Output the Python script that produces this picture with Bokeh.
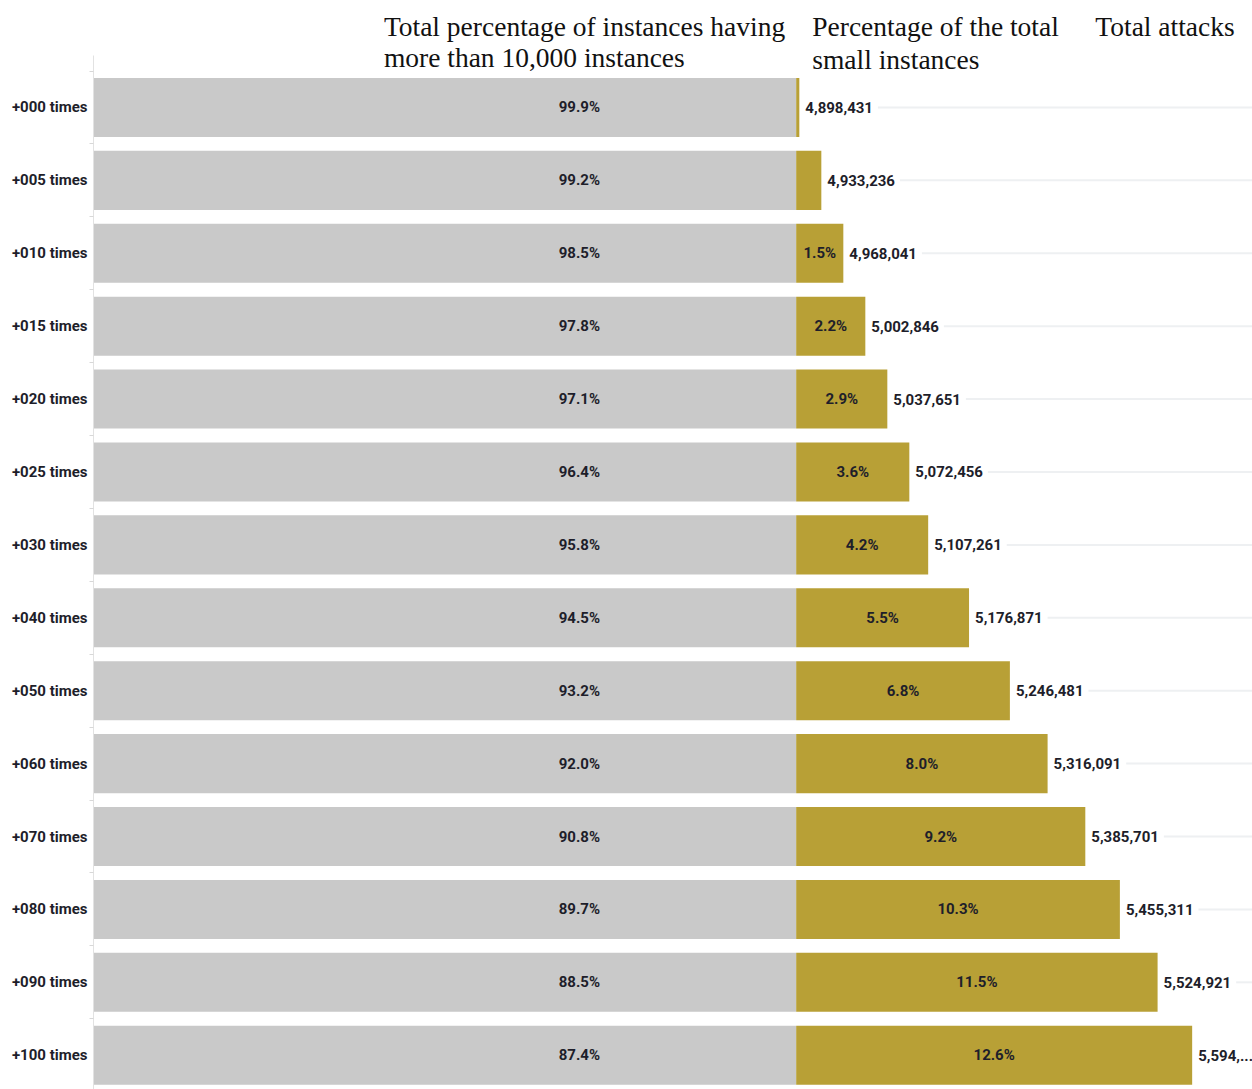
from bokeh.plotting import figure
from bokeh.models import Range1d, FixedTicker, ColumnDataSource
from bokeh.embed import file_html
from bokeh.resources import INLINE
from bokeh.core.properties import value

categories = ["+000 times", "+005 times", "+010 times", "+015 times", "+020 times",
              "+025 times", "+030 times", "+040 times", "+050 times", "+060 times",
              "+070 times", "+080 times", "+090 times", "+100 times"]
large_pct = [99.9, 99.2, 98.5, 97.8, 97.1, 96.4, 95.8, 94.5, 93.2, 92.0, 90.8, 89.7, 88.5, 87.4]
small_pct = [0.1, 0.8, 1.5, 2.2, 2.9, 3.6, 4.2, 5.5, 6.8, 8.0, 9.2, 10.3, 11.5, 12.6]
total_attacks = ["4,898,431", "4,933,236", "4,968,041", "5,002,846", "5,037,651",
                 "5,072,456", "5,107,261", "5,176,871", "5,246,481", "5,316,091",
                 "5,385,701", "5,455,311", "5,524,921", "5,594,..."]
header_lines = ["Total percentage of instances having", "more than 10,000 instances",
                "Percentage of the total", "small instances",
                "Total attacks"]

GREY_SPAN = 22.36
X_MAX = 14.52
GREY = "#c9c9c9"
GOLD = "#b8a036"
TXT = "#1e1e2a"
SANS = "Roboto"
SERIF = "Liberation Serif"

idx = list(range(len(categories)))

p = figure(width=1252, height=1089, output_backend="svg", toolbar_location=None,
           x_range=Range1d(-GREY_SPAN, X_MAX), y_range=Range1d(13.47, -1.467),
           x_axis_location=None, min_border_left=93, min_border_top=0,
           min_border_bottom=0, min_border_right=0)
p.outline_line_color = None
p.grid.visible = False
p.background_fill_color = "white"

ax = p.yaxis[0]
ax.bounds = (-0.713, 13.47)
ax.ticker = FixedTicker(ticks=idx, minor_ticks=[i - 0.5 for i in idx] + [len(idx) - 0.5])
ax.major_label_overrides = {i: c for i, c in zip(idx, categories)}
ax.major_tick_out = 0
ax.major_tick_in = 0
ax.minor_tick_out = 4
ax.minor_tick_in = 0
ax.minor_tick_line_color = "#d8d8d8"
ax.axis_line_color = "#e2e2e2"
ax.major_label_standoff = 2
ax.major_label_text_font = SANS
ax.major_label_text_font_style = "bold"
ax.major_label_text_font_size = "15px"
ax.major_label_text_color = TXT

src = ColumnDataSource(dict(
    y=idx,
    large=large_pct,
    small=small_pct,
    large_lbl=[f"{v:.1f}%" for v in large_pct],
    total=total_attacks,
    line_start=[v + 2.5 for v in small_pct],
))

# faint guide lines after the totals
p.segment(x0="line_start", y0="y", x1=X_MAX, y1="y", source=src,
          line_color="#eef0f2", line_width=2)

p.hbar(y="y", left=-GREY_SPAN, right=0, height=0.81, source=src,
       fill_color=GREY, line_color=None)
p.hbar(y="y", left=0, right="small", height=0.81, source=src,
       fill_color=GOLD, line_color=None)

p.text(x=-6.9, y="y", text="large_lbl", source=src, text_align="center",
       text_baseline="middle", text_font=value(SANS), text_font_style="bold",
       text_font_size="15px", text_color=TXT)

inner = [i for i, v in enumerate(small_pct) if v >= 1.5]
src_in = ColumnDataSource(dict(
    y=[idx[i] for i in inner],
    x=[small_pct[i] / 2 for i in inner],
    t=[f"{small_pct[i]:.1f}%" for i in inner],
))
p.text(x="x", y="y", text="t", source=src_in, text_align="center",
       text_baseline="middle", text_font=value(SANS), text_font_style="bold",
       text_font_size="15px", text_color=TXT)

p.text(x="small", y="y", text="total", source=src, x_offset=6, text_align="left",
       text_baseline="middle", text_font=value(SANS), text_font_style="bold",
       text_font_size="15px", text_color=TXT)

hdr = ColumnDataSource(dict(
    x=[-13.12, -13.12, 0.51, 0.51, 9.52],
    y=[-1.111, -0.685, -1.111, -0.66, -1.111],
    t=header_lines,
))
p.text(x="x", y="y", text="t", source=hdr, text_align="left",
       text_baseline="alphabetic", text_font=value(SERIF),
       text_font_size="27.5px", text_color="#111111")

open("out.html", "w").write(file_html(p, INLINE))
